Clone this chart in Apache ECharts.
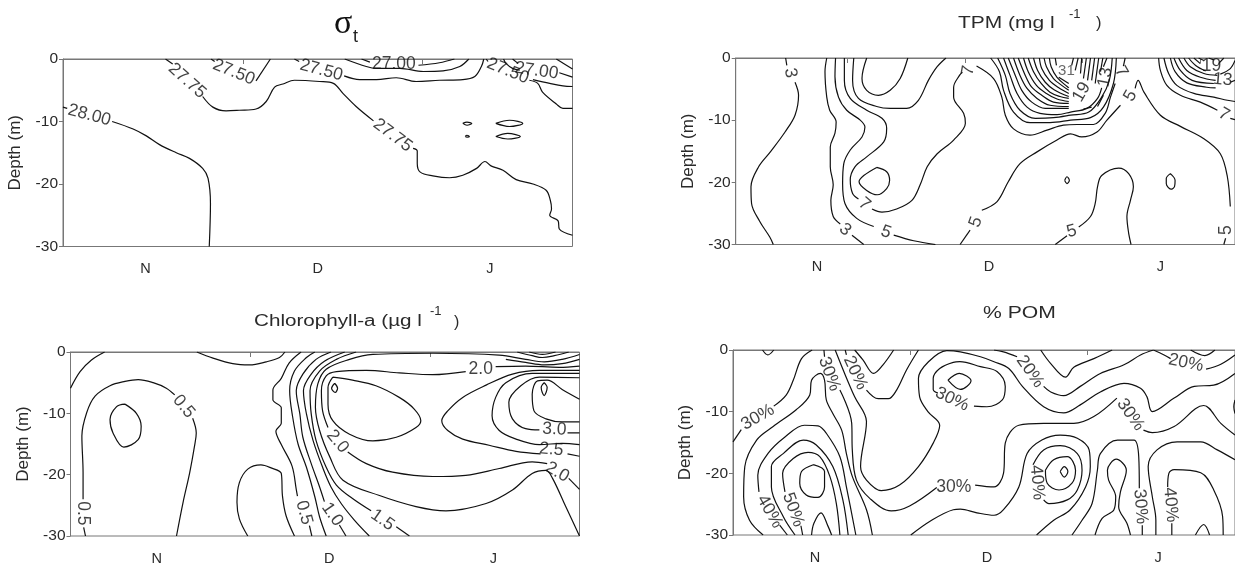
<!DOCTYPE html>
<html><head><meta charset="utf-8">
<style>html,body{margin:0;padding:0;background:#fff}#c{width:1235px;height:566px}</style>
<script src="https://cdn.jsdelivr.net/npm/echarts@6/dist/echarts.min.js"></script>
</head><body><div id="c"></div>
<script>
// x = days since start of November, y = depth (m)
const sigmaContours = [
 [[0,-7.7],[0.7,-7.9]],
 [[8.2,-10],[11.7,-11.2],[13.9,-12.3],[16.1,-13.7],[18.9,-15],[21.1,-15.9],[23.3,-17.5],[24.2,-19.1],[24.6,-23.1],[24.4,-30]],
 [[17.1,0],[18.3,-0.8]],
 [[23.3,-6],[25,-7.7],[27.2,-8.3],[29.4,-8.2],[32.2,-8],[33.9,-6.8],[35.3,-4.5],[36.7,-4],[38.6,-3.4],[42.8,-3.6],[45.1,-3.9],[46.7,-5.5],[48.9,-7.6],[51.8,-9.9]],
 [[58.4,-14.3],[59.1,-14.7],[59.1,-16.7],[59.6,-18.1],[61.7,-18.7],[64.5,-19],[66.7,-18.6],[69,-17.5],[70.4,-16.4],[71.4,-17.1],[73.4,-17.8],[75.6,-19.3],[78.4,-20],[80.6,-21],[81.3,-22.6],[81.5,-24],[81.2,-25],[82.6,-25.9],[82.8,-27.2],[85,-28.2]],
 [[24.7,0],[25.3,-0.4]],
 [[32.2,-3.5],[34.6,0]],
 [[38.6,0],[39.4,-0.4]],
 [[46.9,-2.7],[49.5,-3.3],[52.3,-3.3],[55.6,-3],[58.9,-3.6],[62.8,-3.4],[66.7,-3.3],[68.7,-2.8],[69.8,-1.2],[70.2,0]],
 [[47,0],[50.6,-1.2],[52.3,-1.5],[56.2,-1.5],[60.1,-2],[63.4,-1.9],[66.2,-1.2],[67.7,0]],
 [[49.8,0],[51.2,-0.5]],
 [[59.3,-1],[62.8,-0.6],[65.3,0]],
 [[70.6,0],[70.9,-0.4]],
 [[77.8,-3.4],[79.2,-3.9],[80,-5.3],[82.3,-7.2],[83.4,-7.9],[85,-7.9]],
 [[73.5,0],[73.9,-0.7],[75,-1.5],[76.2,-1.8]],
 [[75,0],[75.9,-0.7]],
 [[82.8,-2.2],[85,-2.9]],
 [[82.3,0],[85,-1.6]],
 [[78.4,-3.3],[81.2,-3.9],[83.4,-4.3],[85,-4.4]],
 [[66.7,-10.3],[67.4,-10.1],[68.2,-10.3],[67.4,-10.6],[66.7,-10.3]],
 [[67.1,-12.4],[67.4,-12.2],[67.8,-12.4],[67.4,-12.5],[67.1,-12.4]],
 [[72.2,-10.3],[74.5,-9.8],[76.7,-10.3],[74.5,-10.8],[72.2,-10.3]],
 [[72.2,-12.4],[74.2,-11.9],[76.3,-12.4],[74.2,-12.8],[72.2,-12.4]]
];
const sigmaLabels = [[4.4,-9,'28.00'],[20.7,-3.5,'27.75'],[28.5,-2.1,'27.50'],[43.1,-1.8,'27.50'],[55,-12.2,'27.75'],[55.2,-0.8,'27.00'],[74.2,-1.9,'27.50'],[79,-1.9,'27.00']];
const sigmaAngles = [-15,-42,-22,-15,-37,0,-22,-8];

const tpmContours = [
 [[8.5,0],[8.7,-1.2]],
 [[10.1,-3.9],[10.7,-6],[10.1,-9.2],[8.4,-11.9],[5.9,-15.1],[3.9,-17.5],[2.6,-20.7],[2.7,-23.4],[4.1,-26.3],[5.8,-28.8],[6.4,-30]],
 [[15.5,0],[15.2,-2.2],[15.5,-6.3],[16,-8.4],[17.1,-10.3],[16.9,-12.1],[16.1,-14.3],[16.1,-17.5],[16.6,-20.4],[16.2,-22.9],[16.6,-25.5],[17.8,-26.7]],
 [[19.8,-28.5],[21.8,-30]],
 [[17,0],[16.9,-3],[17.5,-6.3],[18.9,-8.4],[21.2,-10],[22,-11.1],[21.5,-12.7],[19.5,-14.8],[18.4,-17],[18.2,-20.2],[18.6,-23.4],[20.6,-25.8],[23.5,-27.1]],
 [[26.9,-28.5],[30.3,-29.4],[34,-30]],
 [[18.5,0],[18.5,-3.6],[19.5,-6.5],[22.3,-8.4],[24.9,-9.7],[25.7,-11.3],[25.2,-13.5],[22.3,-15.9],[20.3,-17.5],[19.5,-19.6],[19.9,-21.8],[20.9,-22.7]],
 [[23.2,-24.3],[24.9,-24.8],[27.4,-24.3],[30,-22.9],[31.4,-20.4],[32.6,-17.5],[34.3,-15.4],[37.1,-13.2],[39.1,-10.5],[38.8,-8.9],[37.1,-6.3],[37.1,-4.7],[38.1,-2.8],[38.6,-2.3]],
 [[41,-1.3],[43.9,-3.3],[45.3,-6.3],[45.9,-9.2],[47.3,-11.4],[50.1,-12.4],[53,-11.6],[55.8,-10.8],[58.1,-10.7],[60.9,-10.7],[62.9,-8.9],[63.8,-6.3],[64.6,-4.1]],
 [[66,-1.3],[66.3,0]],
 [[20.1,0],[19.9,-3.6],[20.9,-6.5],[24,-7.8],[26.3,-8.1],[29.1,-8.1],[31.1,-6.8],[32.8,-3.6],[34.3,-1.4],[35.8,0]],
 [[22.3,0],[21.5,-3.3],[22.3,-5.2],[24.3,-6],[26.3,-5.2],[28,-3.3],[29.3,0]],
 [[24,-17.6],[25.7,-18.3],[26.2,-19.7],[25.7,-21],[24.1,-22],[22.3,-21.3],[21,-19.9],[21.8,-18.9],[24,-17.6]],
 [[38.2,-30],[39.9,-27.7]],
 [[41.9,-24.5],[44.5,-23.1],[46.4,-19.9],[48.4,-17],[51.3,-15.1],[54.7,-13.2],[57,-12.2],[58.9,-12.7],[61.5,-11.9],[63.2,-10],[65.5,-7.6]],
 [[68,-4.9],[68.5,-3.6],[69.5,-5.5],[72.3,-9.2],[75.7,-11],[79.7,-13],[82.5,-15.4],[83.7,-19.1],[84.2,-23.9]],
 [[83.4,-29],[83.1,-30]],
 [[54.4,-30],[56.4,-28.6]],
 [[58.4,-27.2],[60.4,-25.5],[61.2,-23.4],[61.6,-20.7],[62.3,-18.9],[65.2,-17.7],[66.9,-18.6],[67.7,-20.7],[67.2,-22.9],[66.6,-25.5],[66.9,-28.2],[67.3,-30]],
 [[43.4,0],[44.9,-2.2],[45.6,-5.2],[47.3,-8.7],[50.1,-10.4],[53.5,-10.4],[57,-10],[60.4,-9.6],[62.6,-7.9],[64.3,-4.1],[64.8,0]],
 [[44.6,0],[45.9,-2.8],[46.7,-5.7],[48.4,-8.4],[51,-9.7],[54.1,-9.6],[57,-9.2],[60.1,-8.7],[62.3,-6.3],[63.6,-3.6],[64.1,0]],
 [[45.6,0],[46.7,-2.8],[47.9,-5.7],[49.6,-7.9],[51.8,-8.9],[54.7,-9.1],[57,-8.7],[59.8,-8.1],[61.6,-6.5],[62.3,-4.8]],
 [[46.4,0],[47.6,-2.8],[48.7,-5.2],[50.4,-7.1],[52.7,-8.1],[56.7,-8.1]],
 [[47.3,0],[48.4,-2.8],[49.6,-4.9],[51.3,-6.5],[53.5,-7.6],[56.7,-7.8]],
 [[48.1,0],[49.3,-2.8],[50.4,-4.7],[52.1,-6],[54.1,-7.1],[56.7,-7.3]],
 [[49,0],[49.8,-2.2],[51.2,-4.4],[52.9,-5.7],[54.7,-6.6],[56.7,-7]],
 [[49.8,0],[50.7,-2.2],[52,-4.1],[53.5,-5.5],[55.2,-6.2],[56.7,-6.5]],
 [[50.7,0],[51.4,-2],[52.7,-3.9],[54.2,-5.1],[56.7,-6.2]],
 [[51.7,0],[52.1,-1.7],[53.4,-3.6],[55,-4.8],[56.7,-5.7]],
 [[52.5,0],[52.9,-1.4],[54.1,-3.3],[55.5,-4.4],[56.7,-5.2]],
 [[53.4,0],[53.7,-1.4],[54.7,-3.1],[56.7,-4.8]],
 [[54.4,0],[54.6,-1.2]],
 [[55,-3.1],[56.7,-4.1]],
 [[57.5,0],[57.2,-1.2]],[[58.3,0],[57.8,-2]],[[58.9,0],[58.7,-2.5]],[[59.7,0],[59.2,-3.3]],[[60.4,0],[59.9,-3.6]],
 [[61.1,0],[60.6,-3.6]],[[61.8,0],[61.2,-4.1]],[[62.5,0],[62.1,-2.2]],[[63.2,0],[62.6,-1.4]],
 [[62.6,-6],[61.6,-7.8]],[[60.6,-7.9],[59.2,-8.2]],
 [[72,0],[72.3,-2],[73.4,-4.4],[75.7,-6],[79.1,-7.1],[82,-8.4]],
 [[84.2,-9.7],[85,-9.9]],
 [[72.9,0],[73.7,-2.5],[75.1,-4.4],[78,-5.7],[81.4,-6.3],[83.7,-6.8],[85,-7]],
 [[74,0],[74.8,-2.2],[76.8,-4],[80.2,-4.7],[81.7,-4.8]],
 [[84.2,-3.9],[85,-3.6]],
 [[74.6,0],[75.7,-2],[77.7,-3.6],[81.4,-4.1]],
 [[75.4,0],[76.8,-2],[79.1,-3.1],[81.7,-3.6]],
 [[76.3,0],[77.4,-1.4],[79.7,-2.5],[82,-2.8]],
 [[77.1,0],[78.3,-1.2],[80,-2.1]],
 [[78,0],[79.1,-0.9]],
 [[78.8,0],[79.7,-0.4]],
 [[82.5,-2.6],[84.2,-1.7],[85,-0.4]],
 [[83.1,0],[82.2,-0.9]],
 [[80.5,0],[81.4,-0.3]],
 [[56,-19.7],[56.4,-19.1],[56.8,-19.7],[56.4,-20.2],[56,-19.7]],
 [[74,-18.6],[74.8,-19.7],[74.7,-20.7],[74.1,-21.1],[73.3,-20.2],[73.3,-19.4],[74,-18.6]]
];
const tpmLabels = [[9.3,-2.4,'3'],[18.6,-27.6,'3'],[25.6,-28,'5'],[21.9,-23.5,'7'],[39.6,-2,'7'],[65.6,-2.2,'7'],[40.9,-26.4,'5'],[67.2,-6.1,'5'],[83.5,-27.7,'5'],[57.2,-27.9,'5'],[62.9,-3.1,'13'],[56.3,-2.1,'31'],[58.9,-5.5,'19'],[83.1,-9.1,'7'],[82.9,-3.5,'13'],[81,-1.3,'19']];
const tpmAngles = [-80,-40,-20,-40,80,-60,70,60,90,15,80,0,60,-30,-5,0];

const chlContours = [
 [[0,-5.9],[1.6,-3.2],[3.5,-1.3],[5.7,0]],
 [[2.5,-30],[2.2,-28.6]],
 [[2.1,-24],[2.1,-19.7],[1.9,-13.7],[2.7,-9.9],[4.1,-7.2],[6.6,-5.5],[9.1,-4.8],[11.3,-4.5],[13.8,-5],[16,-5.9],[17.4,-7]],
 [[20.4,-10.8],[21,-13.2],[20.7,-15.4],[19.9,-19.7],[18.8,-24.5],[17.7,-30]],
 [[9.1,-8.5],[7.7,-8.9],[6.6,-11],[7.1,-13.2],[8.9,-15.5],[11.3,-14.3],[11.8,-12.1],[11,-10],[9.1,-8.5]],
 [[21.1,0],[23.8,-1],[27.1,-1.9],[29.9,-2.1],[32.7,-1.6],[34.9,-0.9],[35.8,0]],
 [[29.6,-30],[28.2,-27.2],[27.8,-24.5],[28.2,-21.3],[29.6,-19.1],[31.8,-18.4],[33.5,-18.9],[35.2,-19.8],[35.4,-23.5],[36,-26.7],[37.4,-30]],
 [[38.5,0],[36.5,-1.8],[35.2,-4.3],[33.8,-6.2],[33.8,-7.8],[35.2,-9.1],[35.2,-11.6],[34.3,-12.9],[35.2,-15.1],[37,-18.6],[37.7,-22.4],[37.9,-23.5]],
 [[39.9,-28.3],[40.3,-30]],
 [[40.8,0],[39.4,-0.9],[37.4,-3.1],[36.6,-6.3],[37.1,-10.6],[38,-15],[39.4,-18.8],[40.8,-23.6],[41.6,-26.9],[42.7,-30]],
 [[43.5,0],[41,-1.2],[38.8,-3.6],[37.7,-6.3],[38.3,-10.1],[38.8,-13.9],[40.2,-18.2],[41.6,-22],[42.4,-24.4]],
 [[44.9,-28.2],[46,-30]],
 [[45.8,0],[42.4,-1.5],[40.2,-3.6],[38.9,-6.3],[39.4,-10.1],[40.5,-14.4],[42.1,-18.8],[43.5,-22],[45.2,-24.7],[47.4,-27.4],[49.9,-30]],
 [[47.7,0],[44.4,-1.2],[41.6,-3.1],[40,-6.3],[40.2,-10.1],[41,-14.4],[42.7,-18.8],[44.4,-21.7],[47.1,-23.9],[50.2,-25.9]],
 [[54.4,-28.5],[56.6,-30]],
 [[85,-30],[82.7,-25.2],[80.5,-20.6],[79.4,-19.3],[77.1,-19.8],[73.8,-22.5],[69.4,-24.7],[62.7,-25.9],[57.7,-25.2],[51.6,-23.4],[45.5,-20.9],[43.3,-17.1],[41.6,-12.8],[40.9,-9],[41.3,-5.2],[42.7,-2.8],[46.6,-1.2],[50.5,-0.4],[60.5,-0.2],[71.6,-0.5],[76,-1.2],[79.1,-1.6],[82.1,-1.2],[85,-0.4]],
 [[85,-22.4],[83.2,-20.6]],
 [[79.6,-18.2],[77.1,-17.9],[71.6,-19],[66,-20.1],[60.5,-20.3],[53.8,-19.6],[49.4,-18.2],[46.3,-16.3]],
 [[43,-12.3],[42.1,-9.6],[41.9,-6.3],[42.7,-3.9],[44.4,-3.2],[49.4,-3],[54.9,-3.4],[60.5,-3.7],[66,-3.2]],
 [[71,-2.4],[76,-2.3],[81.6,-2.5],[85,-2.3]],
 [[43.8,-4.1],[43,-5.8],[43,-8.5],[43.8,-11.2],[46.6,-13.4],[50.5,-14.5],[54.4,-13.9],[57.7,-12.3],[58.5,-11.2],[57.4,-9.3],[54.9,-7.4],[51,-5.5],[47.1,-4.6],[43.8,-4.1]],
 [[85,-3],[78.3,-3],[73.8,-3.6],[69.4,-5.4],[65.5,-7.4],[63,-9.6],[62,-11.2],[63,-12.8],[65.5,-14.2],[69.9,-15.2],[74.4,-16.2],[78.5,-16.6]],
 [[83,-16.6],[85,-17]],
 [[85,-3.5],[77.1,-3.5],[72.7,-5],[71,-7.4],[70.4,-10.4],[71.6,-12.8],[74.4,-14.2],[78.3,-15.1],[82.1,-14.9],[85,-15.1]],
 [[85,-4.2],[78.3,-4.1],[75.2,-5.5],[73.2,-8.2],[73.8,-10.9],[76,-12.5],[78.3,-12.7]],
 [[83,-13.2],[85,-13.2]],
 [[85,-7.7],[82.1,-6.1],[79.6,-4.6],[78,-4.7],[77.1,-6.9],[77.4,-9.6],[79.4,-10.9],[82.1,-11.4],[85,-11.4]],
 [[74.6,0],[77.1,-0.6],[78.8,-0.9],[80.8,-0.6],[83.2,0]],
 [[76.6,0],[78.8,-0.4],[81,0]],
 [[85,-1.2],[82.1,-1.9],[79.1,-2.1],[76,-1.7],[72.7,-1.2]],
 [[79.1,-5],[79.6,-5.8],[79.1,-7.1],[78.6,-5.8],[79.1,-5]],
 [[44.1,-5.1],[44.6,-5.9],[44.2,-6.6],[43.6,-5.9],[44.1,-5.1]]
];
const chlLabels = [[2.1,-26.3,'0.5'],[18.9,-8.9,'0.5'],[39,-26.2,'0.5'],[43.7,-26.5,'1.0'],[52.1,-27.4,'1.5'],[81.3,-19.6,'2.0'],[44.6,-14.6,'2.0'],[68.5,-2.8,'2.0'],[80.3,-15.9,'2.5'],[80.8,-12.6,'3.0']];
const chlAngles = [-90,-50,-75,-55,-35,-30,-50,0,-5,-3];

const pomContours = [
 [[5,0],[5.9,-0.8],[6.9,0]],
 [[0,-14.9],[1.4,-12.9]],
 [[6.9,-9.1],[9,-7.3],[10.2,-4.9],[11.6,-1.4],[13.4,0]],
 [[5.1,-30],[2.8,-27.6],[1.8,-23.8],[2,-18.9],[4,-14.6],[6.8,-12.4],[10.7,-9.7],[13,-7.3],[13.3,-4.9],[14.8,-3.8],[15.5,-4.9],[15.8,-8.1],[16.9,-10.3],[18.4,-13],[19.2,-16.8],[20.2,-20.5],[22.6,-25.9],[23.6,-30]],
 [[15.4,0],[15.5,-1.1]],
 [[18.1,-6.5],[20.1,-11.9],[20.2,-16.2],[20.9,-21.1],[23.2,-24.1],[26.8,-26.1],[29.9,-25.3],[34.5,-22.3]],
 [[41,-21.9],[44.2,-22.2],[45.8,-20],[46.1,-15.1],[48.4,-12.2],[52.6,-11.9],[57.7,-11.9],[61.1,-10.8],[65,-7.8]],
 [[69.5,-13],[71,-13.4],[74.7,-12.4],[79.7,-9],[82.6,-11.9],[85,-13.8]],
 [[17.3,0],[18.9,-3.8],[20.6,-7.6],[22.6,-11.6],[21.6,-18.9],[22.6,-21.1],[25.1,-22.8],[28.2,-21.9],[31.4,-18.9],[33.9,-15.1],[35,-12.2],[33,-10],[31.6,-7.6],[31.4,-4.6],[33.1,-1.9],[36.2,-0.1],[38.5,-0.3],[41.9,-1.1],[44.2,-1.9],[46.7,-3],[49,-5.9],[52.6,-9.2],[56,-10.2],[58.8,-8.9],[62.2,-6.8],[66.2,-5.4],[69,-6.2],[70.1,-7.6],[71,-10],[74.7,-7.8],[78.1,-5.9],[81.4,-5.7],[85,-3.8]],
 [[19,0],[19.2,-0.8]],
 [[22.6,-6.5],[24.6,-7.9],[26.3,-7.9],[27.7,-6.5],[29.4,-3.2],[31.4,0]],
 [[20.6,0],[22,-1.6],[23.8,-3.8],[25.4,-2.4],[27.2,0]],
 [[34.7,-7],[33.9,-6.4],[33.9,-4.6],[35,-3],[37.3,-2],[38.4,-1.9],[41.9,-2.7],[44.7,-3.5],[46.1,-5.9],[45.6,-8.1],[43,-9.2],[40.8,-9.1]],
 [[36.4,-4.9],[38.3,-3.8],[40.3,-5],[38.5,-6.4],[36.4,-4.9]],
 [[44.2,0],[45.8,-0.3],[48.1,-1.1]],
 [[52.6,-5.9],[53.8,-6.8],[56,-7.4],[58.8,-5.9],[62.2,-3.8],[66.2,-2.4],[69,-0.8],[71.2,0]],
 [[52.1,0],[53.8,-2.2],[56.3,-4.4],[57.7,-2.8],[61.1,-1.4],[64.2,0]],
 [[71.2,0],[73,-0.8],[74.1,-1.4]],
 [[80.1,-3.1],[82.6,-2.3],[85,-0.8]],
 [[77.5,0],[79.9,-0.9],[81.6,0]],
 [[85,-8.1],[84.8,-9.2],[85,-10.3]],
 [[9.2,-30],[7.9,-28.4]],
 [[4.4,-23],[4.2,-20.3],[5.9,-16.8],[8.8,-14.1],[12.1,-12.2],[14.4,-12.3],[15.8,-13.5],[18.1,-17.3],[19.2,-22.2],[20.8,-30]],
 [[10.5,-30],[8.5,-27],[6.5,-22.2],[6.5,-18.9],[8.5,-16.8],[11.9,-14.6],[14.1,-15.4],[16.9,-18.9],[18.6,-24.3],[19.5,-30]],
 [[11.8,-30],[11.5,-28.5]],
 [[8.8,-23],[8.4,-20],[10.2,-17.6],[12.7,-16.6],[14.7,-17.3],[16.4,-20.5],[17.5,-24.9],[18.1,-30]],
 [[13.6,-18.6],[15.5,-19.7],[15.5,-22.2],[14.4,-23.9],[12.4,-23.5],[11.3,-21.6],[11.6,-19.7],[13.6,-18.6]],
 [[13.3,-30],[13.7,-28.1],[14.9,-26.4],[16.1,-28.6],[16.7,-30]],
 [[30.1,-30],[33.3,-27.8],[37.3,-25.9],[38.5,-25.8],[41.3,-26.4],[44.2,-26.8],[45.8,-25.9],[48.4,-22.2],[49.8,-16.8],[52.3,-14.6],[55.4,-13.8],[58.3,-14.3],[60.3,-16.2],[60.5,-18.9],[59.7,-22.2],[57.1,-25.9],[54.3,-27.6],[51.4,-30]],
 [[50.8,-18.6],[52.6,-16.2],[55.4,-15.5],[58.3,-16.8],[59.1,-19.5],[58.3,-22.7],[56.6,-24.3],[53.5,-24.9],[52.6,-24.3]],
 [[52.9,-19.5],[54.3,-17.8],[56.6,-17.3],[58,-19.5],[57.4,-21.6],[55.2,-22.7],[53.2,-21.6],[52.9,-19.5]],
 [[55.4,-19.7],[56.1,-18.9],[56.7,-19.7],[56.1,-20.6],[55.4,-19.7]],
 [[57.4,-30],[59.1,-27.6],[60.8,-24.9],[61.7,-19.5],[62.2,-16.8],[65.1,-14.6],[67.9,-14.6],[68.7,-17.3],[68.8,-22.4]],
 [[69.3,-28.4],[69.3,-30]],
 [[61.3,-30],[62.5,-27.3],[64.5,-25.9],[64.8,-23.8],[63.6,-21.1],[63.4,-19.5],[64.9,-17.7],[66.6,-19.5],[65.6,-23],[65.3,-25.4],[66.7,-28.1],[67.3,-30]],
 [[71.6,-30],[71.6,-27.6],[71,-23.8],[70.3,-18.9],[71.8,-16.2],[75.2,-14.9],[79.2,-14.9],[82,-16.2],[85,-17.8]],
 [[74.3,-30],[74.3,-28.1]],
 [[73.6,-22.2],[73.8,-20],[74.7,-19.4],[79.2,-19.9],[81.4,-22.7],[82.9,-27],[83,-30]],
 [[78.3,-30],[79.7,-28.3],[80.7,-30]]
];
const pomLabels = [[4.2,-10.9,'30%'],[16.3,-3.9,'30%'],[20.7,-3.7,'20%'],[37.1,-8,'30%'],[37.4,-22.2,'30%'],[50.3,-3.5,'20%'],[67.3,-10.5,'30%'],[76.7,-2.1,'20%'],[6.2,-26.2,'40%'],[10.2,-25.9,'50%'],[51.5,-21.5,'40%'],[69,-25.4,'30%'],[74.1,-25.1,'40%']];
const pomAngles = [30,-70,-65,-25,0,-55,-55,-12,-60,-70,-85,-85,-85];

const monthNames = ['N','D','J'];
const sigmaMonthDays = [13.75,42.5,71.2];
const tpmMonthDays = [13.85,43.1,72.3];
const chlMonthDays = [14.4,43.2,70.6];
const pomMonthDays = [13.9,43,72];
const sigmaTickDays = [0,30,60];
const tpmTickDays = [19,39,59,79];
const chlTickDays = [0,30,60];
const pomTickDays = [0,30,60];

const panels = [
 {rect:[63,59,509.5,187.5], lines:sigmaContours, labels:sigmaLabels, angles:sigmaAngles, months:sigmaMonthDays, ticks:sigmaTickDays},
 {rect:[735.7,58,499.3,186.5], lines:tpmContours, labels:tpmLabels, angles:tpmAngles, months:tpmMonthDays, ticks:tpmTickDays},
 {rect:[70.5,352,509,185], lines:chlContours, labels:chlLabels, angles:chlAngles, months:chlMonthDays, ticks:chlTickDays},
 {rect:[733,350,502,185], lines:pomContours, labels:pomLabels, angles:pomAngles, months:pomMonthDays, ticks:pomTickDays}
];

const FONT = '"Liberation Sans", Arial, sans-serif';
const axisColor = '#777';
const textColor = '#2a2a2a';
const grid=[], xAxis=[], yAxis=[], series=[];
panels.forEach((p,i)=>{
  grid.push({left:p.rect[0],top:p.rect[1],width:p.rect[2],height:p.rect[3],show:true,borderColor:axisColor,borderWidth:1,backgroundColor:'transparent'});
  xAxis.push({gridIndex:i,type:'value',min:0,max:85,splitLine:{show:false},
    axisLine:{lineStyle:{color:axisColor}},
    axisTick:{show:true,length:5,customValues:p.ticks,lineStyle:{color:axisColor}},
    axisLabel:{margin:15,fontSize:14.5,color:textColor,fontFamily:FONT,customValues:p.months,
      formatter:v=>monthNames[p.months.indexOf(v)]}});
  yAxis.push({gridIndex:i,type:'value',min:-30,max:0,interval:10,splitLine:{show:false},
    name:'Depth (m)',nameLocation:'middle',nameGap:39,
    nameTextStyle:{fontSize:17,color:textColor,fontFamily:FONT},
    axisLine:{show:true,lineStyle:{color:axisColor}},
    axisTick:{show:true,length:4,lineStyle:{color:axisColor}},
    axisLabel:{margin:5,fontSize:15.5,color:textColor,fontFamily:FONT}});
  p.lines.forEach(l=>series.push({type:'line',xAxisIndex:i,yAxisIndex:i,data:l,smooth:0.35,showSymbol:false,silent:true,
    lineStyle:{color:'#111',width:1.2},animation:false}));
  series.push({type:'scatter',xAxisIndex:i,yAxisIndex:i,symbolSize:0,silent:true,animation:false,
    data:p.labels.map((t,k)=>({value:[t[0],t[1]],label:{show:true,position:'inside',formatter:t[2],rotate:p.angles[k],
      fontSize:t[2]==='31'?15:17.5,color:t[2]==='31'?'#444':'#111',fontFamily:FONT}}))});
});
const txt=(text,x,y,size,extra)=>Object.assign({type:'text',x,y,silent:true,style:{text,fontSize:size,fontFamily:FONT,fill:textColor,textVerticalAlign:'middle'}},extra||{});
const graphic=[
 {type:'text',x:334,y:24,silent:true,style:{text:'σ',fontSize:34,fontFamily:'"Liberation Serif", serif',fill:'#111',textVerticalAlign:'middle'}},
 {type:'text',x:353,y:37,silent:true,style:{text:'t',fontSize:18,fontFamily:FONT,fill:'#222',textVerticalAlign:'middle'}},
 txt('TPM (mg l',958,23,16.5,{scaleX:1.27}),
 txt('-1',1069,14,13),
 txt(')',1096,23,16.5),
 txt('Chlorophyll-a (µg l',254,322,16,{scaleX:1.29}),
 txt('-1',430,311,13),
 txt(')',454,323,16),
 txt('% POM',983,313,16.5,{scaleX:1.28})
];
const chart=echarts.init(document.getElementById('c'),null,{renderer:'canvas',width:1235,height:566});
chart.setOption({animation:false,backgroundColor:'#fff',grid,xAxis,yAxis,series,graphic,tooltip:{show:false},legend:{show:false}});
</script></body></html>
